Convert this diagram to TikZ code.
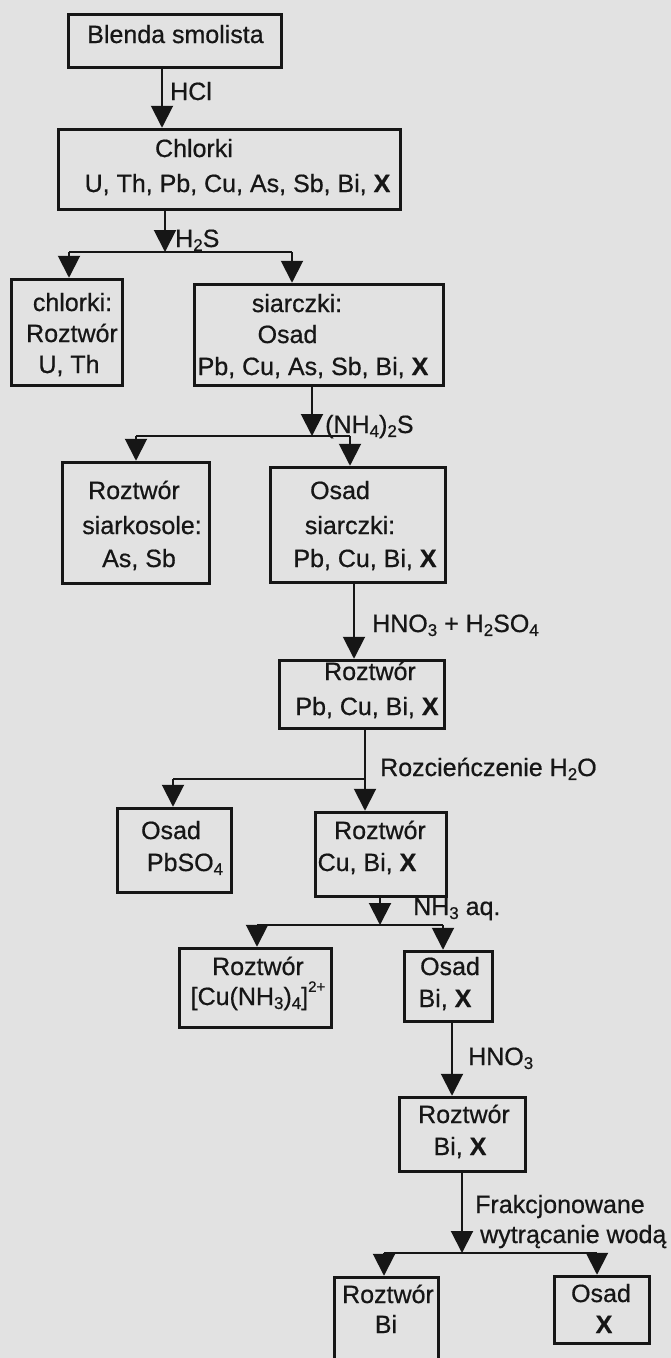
\documentclass[tikz,border=0pt]{standalone}
\usepackage{fontspec}
\setmainfont{Liberation Sans}[FakeBold=0.6]
\newfontfamily\plainfam{Liberation Sans}[FakeBold=0.6]
\usetikzlibrary{arrows.meta}
\definecolor{bg}{RGB}{226,226,226}
\definecolor{ink}{RGB}{22,22,22}
\newcommand\ssub[1]{\raisebox{-0.3ex}{\fontsize{17}{17}\selectfont #1}}
\newcommand\ssup[1]{\raisebox{1.0ex}{\fontsize{15}{15}\selectfont #1}}
\begin{document}
\begin{tikzpicture}[x=1pt,y=-1pt,
  box/.style n args={2}{draw=ink,line width=3.5pt,inner sep=0pt,minimum width=#1,minimum height=#2},
  txt/.style={anchor=base,text=ink,inner sep=0pt,font=\plainfam\fontsize{25}{30}\selectfont},
  lbl/.style={anchor=base west,text=ink,inner sep=0pt,font=\plainfam\fontsize{25}{30}\selectfont},
  conn/.style={draw=ink,line width=2pt},
  arr/.style={conn,-{Triangle[length=22pt,width=22pt]}}]
\useasboundingbox (0,0) rectangle (671,1358);
\clip (0,0) rectangle (671,1358);
\fill[bg] (0,0) rectangle (671,1358);

% boxes
\node[box={213pt}{53pt}] (b1) at (175,41) {};
\node[box={342pt}{80pt}] (b2) at (229.5,169.5) {};
\node[box={111pt}{106pt}] (b3) at (67,332.5) {};
\node[box={249pt}{101pt}] (b4) at (319,335) {};
\node[box={147pt}{121pt}] (b5) at (136,523) {};
\node[box={175pt}{115pt}] (b6) at (358,525) {};
\node[box={165pt}{68pt}] (b7) at (362,694.5) {};
\node[box={114pt}{84pt}] (b8) at (174.5,850.5) {};
\node[box={131pt}{84pt}] (b9) at (381,854.5) {};
\node[box={152pt}{79pt}] (b10) at (255.5,988) {};
\node[box={88pt}{70pt}] (b11) at (448.5,986.5) {};
\node[box={126pt}{74pt}] (b12) at (462.5,1134.5) {};
\node[box={104pt}{96pt}] (b13) at (386.5,1325.5) {};
\node[box={95pt}{67pt}] (b14) at (602,1310) {};

% texts in boxes
\node[txt] (t1) at (175.5,43) {Blenda smolista};
\node[txt] (t2a) at (194,157) {Chlorki};
\node[txt] (t2b) at (237.5,192) {U, Th, Pb, Cu, As, Sb, Bi, \textbf{X}};
\node[txt] (t3a) at (72.5,311) {chlorki:};
\node[txt] (t3b) at (72,342) {Roztwór};
\node[txt] (t3c) at (69,373) {U, Th};
\node[txt] (t4a) at (297,312) {siarczki:};
\node[txt] (t4b) at (287.5,343) {Osad};
\node[txt] (t4c) at (313,375) {Pb, Cu, As, Sb, Bi, \textbf{X}};
\node[txt] (t5a) at (134,499) {Roztwór};
\node[txt] (t5b) at (142,534) {siarkosole:};
\node[txt] (t5c) at (139,567) {As, Sb};
\node[txt] (t6a) at (340,499) {Osad};
\node[txt] (t6b) at (350,534) {siarczki:};
\node[txt] (t6c) at (365,567) {Pb, Cu, Bi, \textbf{X}};
\node[txt] (t7a) at (370,680) {Roztwór};
\node[txt] (t7b) at (367,715) {Pb, Cu, Bi, \textbf{X}};
\node[txt] (t8a) at (171,839) {Osad};
\node[txt] (t8b) at (185,871) {PbSO\ssub{4}};
\node[txt] (t9a) at (380,839) {Roztwór};
\node[txt] (t9b) at (367,871) {Cu, Bi, \textbf{X}};
\node[txt] (t10a) at (258,975) {Roztwór};
\node[txt] (t10b) at (258,1005) {[Cu(NH\ssub{3})\ssub{4}]\ssup{2+}};
\node[txt] (t11a) at (450,975) {Osad};
\node[txt] (t11b) at (445,1007) {Bi, \textbf{X}};
\node[txt] (t12a) at (464,1123) {Roztwór};
\node[txt] (t12b) at (460,1155) {Bi, \textbf{X}};
\node[txt] (t13a) at (388,1303) {Roztwór};
\node[txt] (t13b) at (386,1333) {Bi};
\node[txt] (t14a) at (601,1302) {Osad};
\node[txt] (t14b) at (604,1333) {\textbf{X}};

% reagent labels
\node[lbl] (lHCl) at (170,100) {HCl};
\node[lbl] (lH2S) at (175,247) {H\ssub{2}S};
\node[lbl] (lNH4) at (325,433) {(NH\ssub{4})\ssub{2}S};
\node[lbl] (lHNO) at (372,632) {HNO\ssub{3} + H\ssub{2}SO\ssub{4}};
\node[lbl] (lRoz) at (380,776) {Rozcieńczenie H\ssub{2}O};
\node[lbl] (lNH3) at (413,915) {NH\ssub{3} aq.};
\node[lbl] (lHNO3) at (468,1065) {HNO\ssub{3}};
\node[lbl] (lFr) at (475,1213) {Frakcjonowane};
\node[lbl] (lWy) at (480,1243) {wytrącanie wodą};

% connectors
\coordinate (c1) at (162,100);
\draw[arr] (b1.south -| c1) -- (b2.north -| c1);

\coordinate (j2) at (165,252);
\coordinate (j2l) at (69,252);
\coordinate (j2r) at (292,252);
\draw[arr] (b2.south -| j2) -- (j2);
\draw[conn] (j2l) -- (j2r);
\draw[arr] (j2l) -- (b3.north -| j2l);
\draw[arr] (j2r) -- (b4.north -| j2r);

\coordinate (j3) at (312,436);
\coordinate (j3l) at (136,436);
\coordinate (j3r) at (350,436);
\draw[arr] (b4.south -| j3) -- (j3);
\draw[conn] (j3l) -- (j3r);
\draw[arr] (j3l) -- (b5.north -| j3l);
\draw[arr] (j3r) -- (b6.north -| j3r);

\coordinate (c4) at (354,620);
\draw[arr] (b6.south -| c4) -- (b7.north -| c4);

\coordinate (j5) at (365,779);
\coordinate (j5l) at (173,779);
\draw[arr] (b7.south -| j5) -- (b9.north -| j5);
\draw[conn] (j5) -- (j5l);
\draw[arr] (j5l) -- (b8.north -| j5l);

\coordinate (j6) at (380,925);
\coordinate (j6l) at (257,925);
\coordinate (j6r) at (443,925);
\draw[arr] (b9.south -| j6) -- (j6);
\draw[conn] (j6l) -- (j6r);
\draw[arr] (j6l) -- (b10.north -| j6l);
\draw[arr] (j6r) -- (b11.north -| j6r);

\coordinate (c7) at (452,1060);
\draw[arr] (b11.south -| c7) -- (b12.north -| c7);

\coordinate (j8) at (462,1253);
\coordinate (j8l) at (384,1253);
\coordinate (j8r) at (597,1253);
\draw[arr] (b12.south -| j8) -- (j8);
\draw[conn] (j8l) -- (j8r);
\draw[arr] (j8l) -- (b13.north -| j8l);
\draw[arr] (j8r) -- (b14.north -| j8r);
\end{tikzpicture}
\end{document}
